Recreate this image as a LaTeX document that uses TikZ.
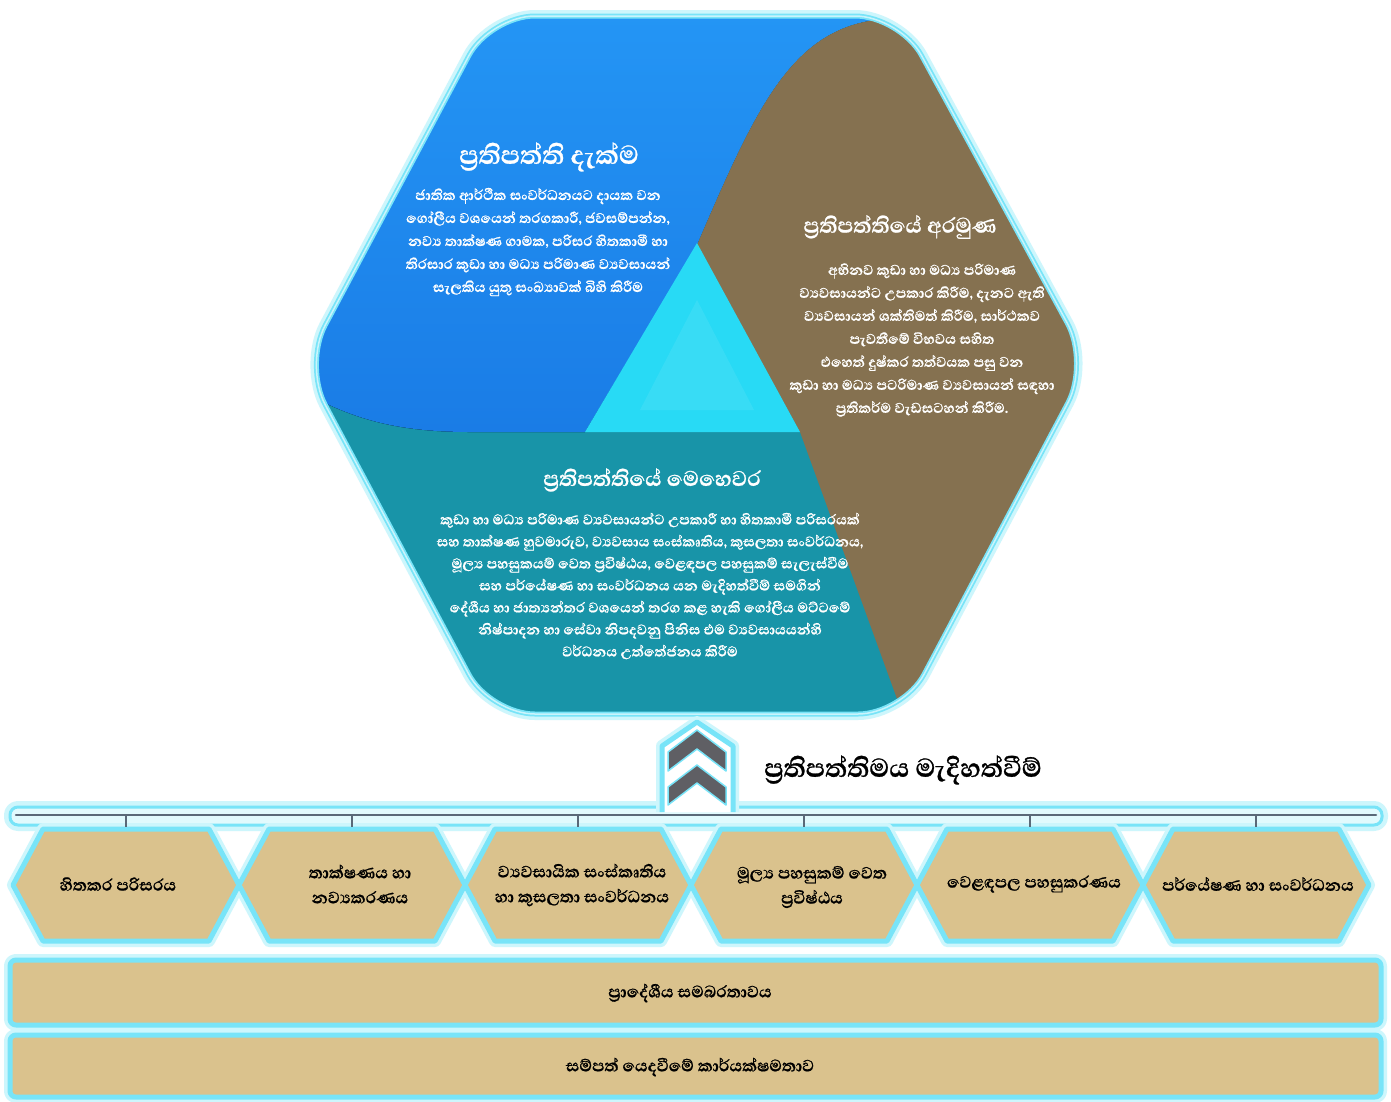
\documentclass[tikz,border=0pt]{standalone}
\usepackage{fontspec}
\newfontfamily\sinhalafont[Script=Sinhala,BoldFeatures={FakeBold=0.8}]{Abhaya Libre}
\definecolor{hexblue}{RGB}{26,124,230}
\definecolor{hexbluetop}{RGB}{36,150,245}
\definecolor{hexbrown}{RGB}{133,113,80}
\definecolor{hexteal}{RGB}{24,148,168}
\definecolor{tri}{RGB}{40,218,245}
\definecolor{tanfill}{RGB}{218,194,141}
\definecolor{glow}{RGB}{120,228,248}
\definecolor{glowlight}{RGB}{205,246,252}
\definecolor{chev}{RGB}{95,95,100}
\definecolor{barline}{RGB}{90,105,120}
\begin{document}
\begin{tikzpicture}[x=1pt,y=-1pt,
  titletext/.style={inner sep=0pt,text=white,font=\sinhalafont\bfseries\fontsize{27}{32}\selectfont},
  bodytext/.style={inner sep=0pt,text=white,align=center,font=\sinhalafont\bfseries\fontsize{18}{23}\selectfont},
  labeltext/.style={inner sep=0pt,text=black,align=center,font=\sinhalafont\bfseries\fontsize{21}{25}\selectfont},
  glowA/.style={draw=glowlight,line width=12pt,line join=round},
  glowB/.style={draw=glow,line width=5pt,line join=round},
  glowC/.style={draw=white!60!glow,line width=1.5pt,line join=round},
  tick/.style={draw=barline,line width=2pt}]
\useasboundingbox (0,0) rectangle (1391,1101);
\fill[white] (0,0) rectangle (1391,1101);

% ---------- big hexagon ----------
\path[glowA,rounded corners=45] (304,365) -- (490,16) -- (900,16) -- (1089,363) -- (903,714) -- (490,714) -- cycle;
\begin{scope}
\clip[rounded corners=45] (304,365) -- (490,16) -- (900,16) -- (1089,363) -- (903,714) -- (490,714) -- cycle;
\fill[hexteal] (280,0) rectangle (1110,740);
\fill[top color=hexbluetop,bottom color=hexblue] (280,0) -- (875,0) -- (875,20) .. controls (790,32) and (755,110) .. (697,245) -- (585,432) -- (470,432) .. controls (380,432) and (340,412) .. (290,385) -- cycle;
\fill[hexbrown] (697,245) .. controls (755,110) and (790,32) .. (875,20) -- (1120,0) -- (1120,740) -- (912,740) -- (800,432) -- cycle;
\fill[tri] (697,243) -- (585,432) -- (800,432) -- cycle;
\fill[tri!70!white,opacity=0.25] (697,300) -- (640,410) -- (754,410) -- cycle;
\end{scope}
\path[glowB,rounded corners=45] (304,365) -- (490,16) -- (900,16) -- (1089,363) -- (903,714) -- (490,714) -- cycle;
\path[glowC,rounded corners=45] (304,365) -- (490,16) -- (900,16) -- (1089,363) -- (903,714) -- (490,714) -- cycle;

\node[titletext,font=\sinhalafont\bfseries\fontsize{33}{36}\selectfont] (visionT) at (549,157) {ප්‍රතිපත්ති දැක්ම};
\node[bodytext] (visionB) at (538,242) {ජාතික ආර්ථික සංවර්ධනයට දායක වන\\
ගෝලීය වශයෙන් තරගකාරී, ජවසම්පන්න,\\
නව්‍ය තාක්ෂණ ගාමක, පරිසර හිතකාමී හා\\
තිරසාර කුඩා හා මධ්‍ය පරිමාණ ව්‍යවසායන්\\
සැලකිය යුතු සංඛ්‍යාවක් බිහි කිරීම};

\node[titletext] (aimT) at (900,227) {ප්‍රතිපත්තියේ අරමුණ};
\node[bodytext] (aimB) at (922,340) {අභිනව කුඩා හා මධ්‍ය පරිමාණ\\
ව්‍යවසායන්ට උපකාර කිරීම, දැනට ඇති\\
ව්‍යවසායන් ශක්තිමත් කිරීම, සාර්ථකව\\
පැවතීමේ විභවය සහිත\\
එහෙත් දුෂ්කර තත්වයක පසු වන\\
කුඩා හා මධ්‍ය පටරිමාණ ව්‍යවසායන් සඳහා\\
ප්‍රතිකර්ම වැඩසටහන් කිරීම.};

\node[titletext] (missT) at (652,480) {ප්‍රතිපත්තියේ මෙහෙවර};
\node[bodytext,font=\sinhalafont\bfseries\fontsize{18}{22}\selectfont] (missB) at (650,586) {කුඩා හා මධ්‍ය පරිමාණ ව්‍යවසායන්ට උපකාරී හා හිතකාමී පරිසරයක්\\
සහ තාක්ෂණ හුවමාරුව, ව්‍යවසාය සංස්කෘතිය, කුසලතා සංවර්ධනය,\\
මූල්‍ය පහසුකයම් වෙත ප්‍රවිෂ්ඨය, වෙළඳපල පහසුකම් සැලැස්වීම\\
සහ පර්යේෂණ හා සංවර්ධනය යන මැදිහත්වීම් සමගින්\\
දේශීය හා ජාත්‍යන්තර වශයෙන් තරග කළ හැකි ගෝලීය මට්ටමේ\\
නිෂ්පාදන හා සේවා නිපදවනු පිනිස එම ව්‍යවසායයන්හි\\
වර්ධනය උත්තේජනය කිරීම};

% ---------- horizontal bar ----------
\path[glowA,fill=glowlight,rounded corners=8] (10,807) rectangle (1382,825);
\path[draw=glow,line width=3pt,fill=glowlight!60!white,rounded corners=8] (10,807) rectangle (1382,825);
\draw[draw=barline,line width=2.5pt,line cap=round] (16,815) -- (1376,815);

% ---------- arrow frame and chevrons ----------
\path[glowA,fill=white] (662,812) -- (662,746) -- (697,722) -- (733,746) -- (733,812);
\path[glowB,fill=white] (662,812) -- (662,746) -- (697,722) -- (733,746) -- (733,812);
\fill[chev,draw=glow,line width=1.5pt,line join=round] (668,752) -- (697,730) -- (726,752) -- (726,771) -- (697,749) -- (668,771) -- cycle;
\fill[chev,draw=glow,line width=1.5pt,line join=round] (668,787) -- (697,765) -- (726,787) -- (726,805) -- (697,783) -- (668,805) -- cycle;
\node[inner sep=0pt,anchor=west,text=black,font=\sinhalafont\bfseries\fontsize{33}{36}\selectfont] (arrowT) at (764,770) {ප්‍රතිපත්තිමය මැදිහත්වීම්};

% ---------- six hexagons ----------
\foreach \i/\cx in {1/126,2/352,3/578,4/804,5/1030,6/1256}{
  \path[glowA] (\cx-113,885) -- (\cx-83,829) -- (\cx+83,829) -- (\cx+113,885) -- (\cx+83,941) -- (\cx-83,941) -- cycle;
}
\foreach \i/\cx in {1/126,2/352,3/578,4/804,5/1030,6/1256}{
  \path[glowB,fill=tanfill] (\cx-113,885) -- (\cx-83,829) -- (\cx+83,829) -- (\cx+113,885) -- (\cx+83,941) -- (\cx-83,941) -- cycle;
  \coordinate (top\i) at (\cx,827);
  \coordinate (bar\i) at (\cx,815);
  \draw[tick] (bar\i) -- (top\i);
}
\node[labeltext] (h1) at (118,884) {හිතකර පරිසරය};
\node[labeltext] (h2) at (360,884) {තාක්ෂණය හා\\නව්‍යකරණය};
\node[labeltext] (h3) at (582,885) {ව්‍යවසායික සංස්කෘතිය\\හා කුසලතා සංවර්ධනය};
\node[labeltext] (h4) at (812,887) {මූල්‍ය පහසුකම් වෙත\\ප්‍රවිෂ්ඨය};
\node[labeltext] (h5) at (1034,884) {වෙළඳපල පහසුකරණය};
\node[labeltext] (h6) at (1258,884) {පර්යේෂණ හා සංවර්ධනය};

% ---------- bottom bars ----------
\path[glowA,rounded corners=6] (10,960) rectangle (1381,1025);
\path[glowA,rounded corners=6] (10,1035) rectangle (1381,1097);
\path[glowB,fill=tanfill,rounded corners=6] (10,960) rectangle (1381,1025);
\path[glowB,fill=tanfill,rounded corners=6] (10,1035) rectangle (1381,1097);
\node[labeltext] (b1) at (690,993) {ප්‍රාදේශීය සමබරතාවය};
\node[labeltext] (b2) at (690,1067) {සම්පත් යෙදවීමේ කාර්යක්ෂමතාව};
\end{tikzpicture}
\end{document}
